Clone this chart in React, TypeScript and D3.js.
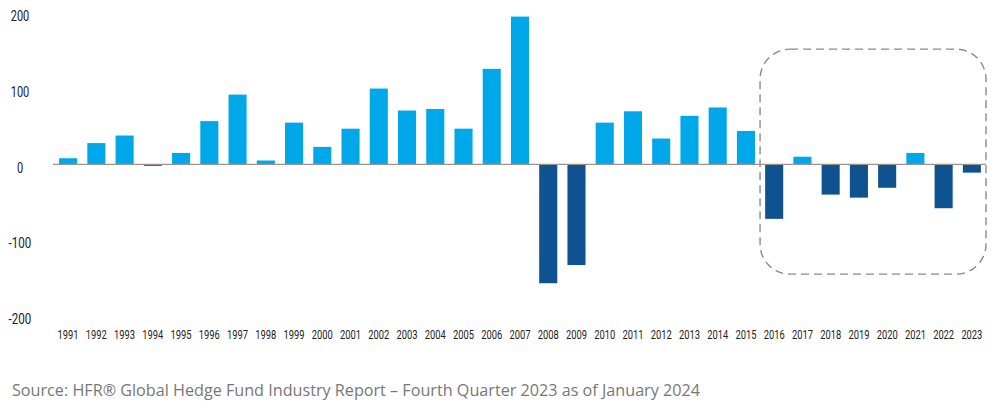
import React from "react";
import * as d3 from "d3";

const years = [
  "1991","1992","1993","1994","1995","1996","1997","1998","1999","2000",
  "2001","2002","2003","2004","2005","2006","2007","2008","2009","2010",
  "2011","2012","2013","2014","2015","2016","2017","2018","2019","2020",
  "2021","2022","2023",
];
const flows = [
  8, 28, 38, -2, 15, 57, 92, 5, 55, 23,
  47, 100, 71, 73, 47, 126, 195, -157, -133, 55,
  70, 34, 64, 75, 44, -72, 10, -40, -44, -31,
  15, -58, -11,
];
const yTicks = [200, 100, 0, -100, -200];
const highlightFrom = "2016";
const sourceText = "Source: HFR® Global Hedge Fund Industry Report – Fourth Quarter 2023 as of January 2024";

const W = 1006;
const H = 414;
const LIGHT = "#00A8EA";
const DARK = "#0E528F";
const AXIS_FONT = "Roboto, 'DejaVu Sans', sans-serif";

export default function App() {
  const x = d3.scaleBand<string>().domain(years).range([54, 986]).paddingInner(0.36).paddingOuter(0.18);
  const y = d3.scaleLinear().domain([-200, 200]).range([315.8, 12.8]);
  const bw = x.bandwidth();

  const bx0 = (x(highlightFrom) as number) - x.step() * 0.18;
  const bx1 = 986;
  const by0 = y(152);
  const by1 = y(-145);

  return (
    <svg width={W} height={H} style={{ position: "absolute", left: 0, top: 0, background: "#fff" }}>
      {years.map((yr, i) => {
        const v = flows[i];
        const y0 = y(0);
        const yv = y(v);
        return (
          <rect
            key={yr}
            x={x(yr)}
            y={Math.min(y0, yv)}
            width={bw}
            height={Math.abs(yv - y0)}
            fill={v >= 0 ? LIGHT : DARK}
          />
        );
      })}
      <line x1={53} x2={986} y1={y(0)} y2={y(0)} stroke="#9e928a" strokeWidth={1.2} />
      {yTicks.map((t) => (
        <text
          key={t}
          x={20}
          y={y(t) + 4.5}
          textAnchor="middle"
          dominantBaseline="middle"
          fontFamily={AXIS_FONT}
          fontSize={14}
          textLength={String(t).length * 6.2 - (t < 0 ? 2 : 0)}
          lengthAdjust="spacingAndGlyphs"
          fill="#222"
        >
          {t}
        </text>
      ))}
      {years.map((yr) => (
        <text
          key={yr}
          x={(x(yr) as number) + bw / 2}
          y={336}
          textAnchor="middle"
          dominantBaseline="middle"
          fontFamily={AXIS_FONT}
          fontSize={13}
          textLength={21}
          lengthAdjust="spacingAndGlyphs"
          fill="#222"
        >
          {yr}
        </text>
      ))}
      <rect
        x={bx0}
        y={by0}
        width={bx1 - bx0}
        height={by1 - by0}
        rx={30}
        ry={30}
        fill="none"
        stroke="#8a8a8a"
        strokeWidth={1.4}
        strokeDasharray="8 5"
      />
      <text
        x={12}
        y={392}
        dominantBaseline="middle"
        fontFamily="'Open Sans', sans-serif"
        fontSize={16}
        textLength={688}
        lengthAdjust="spacingAndGlyphs"
        fill="#777"
      >
        {sourceText}
      </text>
    </svg>
  );
}
